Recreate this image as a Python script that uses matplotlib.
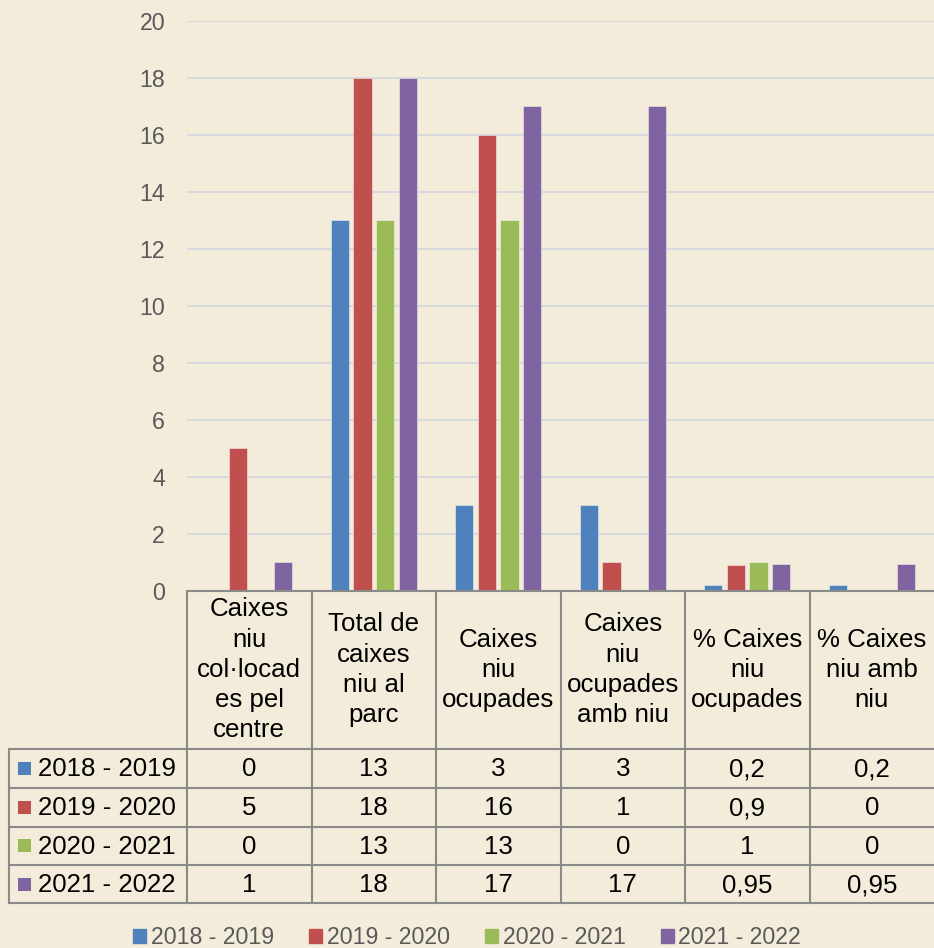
import matplotlib
matplotlib.use("Agg")
import matplotlib.pyplot as plt
from matplotlib.patches import Rectangle
import numpy as np

plt.rcParams['font.family'] = ['Liberation Sans', 'DejaVu Sans']

# ---------------- data ----------------
categories = [
    "Caixes\nniu\ncol·locad\nes pel\ncentre",
    "Total de\ncaixes\nniu al\nparc",
    "Caixes\nniu\nocupades",
    "Caixes\nniu\nocupades\namb niu",
    "% Caixes\nniu\nocupades",
    "% Caixes\nniu amb\nniu",
]
series_names = ["2018 - 2019", "2019 - 2020", "2020 - 2021", "2021 - 2022"]
s2018 = [0, 13, 3, 3, 0.2, 0.2]
s2019 = [5, 18, 16, 1, 0.9, 0]
s2020 = [0, 13, 13, 0, 1, 0]
s2021 = [1, 18, 17, 17, 0.95, 0.95]
series_values = [s2018, s2019, s2020, s2021]
colors = ["#4F81BD", "#C0504D", "#9BBB59", "#8064A2"]
yticks = list(range(0, 21, 2))

# ---------------- layout ----------------
W, H = 934, 948
BG = "#F4ECDA"
fig = plt.figure(figsize=(W / 100, H / 100), dpi=100, facecolor=BG)

ax_left, ax_right = 187, 934
ax_top, ax_bottom = 20.7, 590.7
ax = fig.add_axes([ax_left / W, (H - ax_bottom) / H, (ax_right - ax_left) / W, (ax_bottom - ax_top) / H])
ax.set_facecolor("none")

n_cat = len(categories)
n_ser = len(series_values)
x = np.arange(n_cat) + 0.5
step, bw = 0.181, 0.145
for k, (vals, c) in enumerate(zip(series_values, colors)):
    ax.bar(x + (k - (n_ser - 1) / 2) * step, vals, width=bw, color=c,
           edgecolor=(1, 1, 1, 0.45), linewidth=0.7, zorder=3)

ax.set_xlim(0, n_cat)
ax.set_ylim(0, 20)
ax.set_yticks(yticks)
ax.set_yticklabels([str(t) for t in yticks], fontsize=16.7, color="#595959")
ax.tick_params(axis="y", length=0, pad=15.8)
ax.set_xticks([])
ax.grid(axis="y", color="#D2D6E0", linewidth=1.2, zorder=0)
for s in ["top", "right", "left", "bottom"]:
    ax.spines[s].set_visible(False)

# ---------------- data table (overlay in pixel coords) ----------------
ov = fig.add_axes([0, 0, 1, 1])
ov.set_xlim(0, W)
ov.set_ylim(H, 0)
ov.axis("off")
ov.set_facecolor("none")

LC = "#8A8A8A"
LW = 1.5
col_w = (ax_right - ax_left) / n_cat
col_edges = [ax_left + i * col_w for i in range(n_cat + 1)]
header_top, header_bot = ax_bottom, 749
row_edges = [749, 788, 826.5, 865, 903]
tbl_left = 9

# horizontal lines
ov.plot([ax_left, W], [header_top, header_top], color=LC, lw=LW)
for ry in row_edges:
    ov.plot([tbl_left, W], [ry, ry], color=LC, lw=LW)
# vertical lines
ov.plot([tbl_left, tbl_left], [row_edges[0], row_edges[-1]], color=LC, lw=LW)
for cx in col_edges[:-1]:
    ov.plot([cx, cx], [header_top, row_edges[-1]], color=LC, lw=LW)

TFS = 18.6
for i, cat in enumerate(categories):
    cx = (col_edges[i] + col_edges[i + 1]) / 2
    ov.text(cx, (header_top + header_bot) / 2, cat, ha="center", va="center",
            fontsize=TFS, color="black", linespacing=1.33)

def fmt(v):
    s = f"{v:g}"
    return s.replace(".", ",")

for r, (name, vals, c) in enumerate(zip(series_names, series_values, colors)):
    cy = (row_edges[r] + row_edges[r + 1]) / 2
    ov.add_patch(Rectangle((18, cy - 6.5), 13, 13, color=c, lw=0))
    ov.text(38, cy + 1, name, ha="left", va="center", fontsize=TFS, color="black")
    for i, v in enumerate(vals):
        cx = (col_edges[i] + col_edges[i + 1]) / 2
        ov.text(cx, cy + 1, fmt(v), ha="center", va="center", fontsize=TFS, color="black")

# ---------------- legend ----------------
handles = [Rectangle((0, 0), 1, 1, color=c) for c in colors]
leg = fig.legend(handles, series_names, loc="center", bbox_to_anchor=(467 / W, (H - 938) / H),
                 ncol=4, frameon=False, fontsize=16.7, handlelength=0.56, handleheight=0.56,
                 handletextpad=0.2, columnspacing=1.52, borderpad=0.1)
for t in leg.get_texts():
    t.set_color("#595959")

fig.savefig("out.png", dpi=100, facecolor=BG)
